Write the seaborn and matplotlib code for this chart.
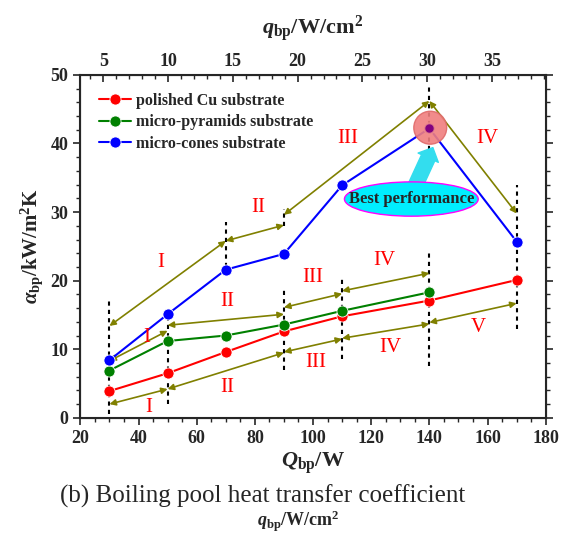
import numpy as np
import pandas as pd
import matplotlib
matplotlib.use('Agg')
import matplotlib.pyplot as plt
import seaborn as sns
from matplotlib.patches import Ellipse
from matplotlib.ticker import MultipleLocator

# heat load / W
q_cu = [30, 50, 70, 90, 110, 140, 170]
a_cu = [3.9, 6.5, 9.6, 12.6, 14.8, 17.1, 20.1]
q_pyr = [30, 50, 70, 90, 110, 140]
a_pyr = [6.9, 11.2, 12.0, 13.6, 15.6, 18.3]
q_cone = [30, 50, 70, 90, 110, 140, 170]
a_cone = [8.4, 15.1, 21.6, 23.9, 33.9, 42.2, 25.7]

series_names = ['polished Cu substrate', 'micro-pyramids substrate', 'micro-cones substrate']
series_colors = ['#ff0000', '#008000', '#0000ff']

# stage arrows (x0, y0, x1, y1)
arrows_cone = [(30, 13.4, 70, 25.8), (70, 25.8, 90, 28.1), (90, 29.6, 140, 46.2), (140, 46.2, 170, 29.8)]
arrows_pyr = [(30, 8.3, 50, 12.7), (50, 13.5, 90, 15.1), (90, 16.1, 110, 18.1), (110, 18.5, 140, 21.1)]
arrows_cu = [(30, 2.0, 50, 4.2), (50, 4.2, 90, 9.5), (90, 9.6, 110, 11.5), (110, 11.6, 140, 13.7), (140, 13.9, 170, 16.7)]

# dashed stage boundaries (x, y0, y1)
dashes = [(30, 0.5, 17.0), (50, 2.0, 15.0), (70, 22.0, 28.5), (90, 7.0, 19.0), (90, 28.0, 30.5),
          (110, 8.6, 20.5), (140, 7.5, 24.0), (140, 39.0, 48.5), (170, 13.0, 34.0)]

# stage labels (x, y, text)
stage_labels = [(47.5, 22.7, 'I'), (81, 30.6, 'II'), (112, 40.8, 'III'), (160, 40.8, 'IV'),
                (42.8, 11.7, 'I'), (70.5, 16.9, 'II'), (100, 20.4, 'III'), (124.5, 23.0, 'IV'),
                (43.5, 1.45, 'I'), (70.5, 4.4, 'II'), (101, 8.0, 'III'), (126.5, 10.3, 'IV'), (157, 13.1, 'V')]

top_ticks = [5, 10, 15, 20, 25, 30, 35]

df = pd.concat([
    pd.DataFrame({'Q': q_cu, 'alpha': a_cu, 'surface': series_names[0]}),
    pd.DataFrame({'Q': q_pyr, 'alpha': a_pyr, 'surface': series_names[1]}),
    pd.DataFrame({'Q': q_cone, 'alpha': a_cone, 'surface': series_names[2]}),
])

sns.set_style('ticks')
plt.rcParams['font.family'] = ['Liberation Serif', 'DejaVu Serif']
plt.rcParams['font.weight'] = 'bold'
plt.rcParams['axes.labelweight'] = 'bold'
plt.rcParams['mathtext.fontset'] = 'custom'
plt.rcParams['mathtext.rm'] = 'Liberation Serif:bold'
plt.rcParams['mathtext.it'] = 'Liberation Serif:italic:bold'
plt.rcParams['mathtext.bf'] = 'Liberation Serif:bold'

fig = plt.figure(figsize=(5.62, 5.35), dpi=100)
ax = fig.add_axes([0.143, 0.219, 0.828, 0.641])

sns.lineplot(data=df, x='Q', y='alpha', hue='surface', palette=series_colors, hue_order=series_names,
             marker='o', markersize=8, markeredgecolor='white', markeredgewidth=0.6,
             linewidth=1.5, ax=ax, sort=False, zorder=3)

olive = '#808000'
for x0, y0, x1, y1 in arrows_cone + arrows_pyr + arrows_cu:
    ax.annotate('', xy=(x1, y1), xytext=(x0, y0),
                arrowprops=dict(arrowstyle='<|-|>', color=olive, lw=1.2, mutation_scale=9,
                                shrinkA=0, shrinkB=0), zorder=2)

for x, y0, y1 in dashes:
    ax.plot([x, x], [y0, y1], color='black', ls=(0, (2, 2)), lw=1.5, zorder=1)

for x, y, t in stage_labels:
    ax.text(x, y, t, color='red', fontsize=15, fontweight='normal', ha='center', va='center',
            family='Liberation Serif')

# best performance highlight
ax.add_patch(Ellipse((140.3, 42.3), 11.3, 4.8, facecolor='#f07f7f', edgecolor='#e06a6a', alpha=0.9, zorder=4))
ax.plot([140], [42.2], 'o', color='#800080', markersize=5, zorder=5)
ax.annotate('', xy=(141.2, 39.4), xytext=(134.8, 33.5),
            arrowprops=dict(arrowstyle='simple,head_width=1.6,head_length=0.8,tail_width=1.05',
                            mutation_scale=10, facecolor='#33ddee', edgecolor='#33ddee',
                            shrinkA=0, shrinkB=0), zorder=4)
ax.add_patch(Ellipse((133.8, 31.9), 46, 5.0, facecolor='#00eeff', edgecolor='#ff00ff', lw=1.0, zorder=4))
ax.text(133.8, 31.9, 'Best performance', ha='center', va='center', fontsize=12, fontweight='bold', zorder=5)

ax.set_xlim(20, 180)
ax.set_ylim(0, 50)
ax.xaxis.set_major_locator(MultipleLocator(20))
ax.xaxis.set_minor_locator(MultipleLocator(5))
ax.yaxis.set_major_locator(MultipleLocator(10))
ax.yaxis.set_minor_locator(MultipleLocator(2))
ax.tick_params(which='major', length=5, width=1.2, labelsize=13, direction='out')
ax.tick_params(which='minor', length=3, width=1.0, direction='out')
ax.tick_params(axis='y', right=True, which='both')
for lab in ax.get_xticklabels() + ax.get_yticklabels():
    lab.set_fontweight('bold')
for s in ax.spines.values():
    s.set_linewidth(1.5)
    s.set_visible(True)

ax.set_xlabel(r'$Q_{\rm bp}$/W', fontsize=16, labelpad=3)
ax.set_ylabel(r'$\alpha_{\rm bp}$/kW/m$^2$K', fontsize=15, labelpad=4)

# top axis: heat flux
ax2 = ax.twiny()
ax2.set_xlim(3.23, 39.15)
ax2.set_xticks(top_ticks)
ax2.xaxis.set_minor_locator(MultipleLocator(1))
ax2.tick_params(which='major', length=5, width=1.2, labelsize=13, direction='in')
ax2.tick_params(which='minor', length=3, width=1.0, direction='in')
for lab in ax2.get_xticklabels():
    lab.set_fontweight('bold')
ax2.set_xlabel(r'$q_{\rm bp}$/W/cm$^2$', fontsize=16, labelpad=14)

leg = ax.legend(loc='upper left', bbox_to_anchor=(0.01, 0.99), frameon=False, fontsize=11.5,
                handlelength=2.0, handletextpad=0.3, labelspacing=0.35)
for t in leg.get_texts():
    t.set_fontweight('bold')

fig.text(0.468, 0.072, '(b) Boiling pool heat transfer coefficient', ha='center', va='center',
         fontsize=18, fontweight='normal')
fig.text(0.53, 0.016, r'$q_{\rm bp}$/W/cm$^2$', ha='center', va='baseline', fontsize=13)

fig.savefig('out.png', dpi=100)
